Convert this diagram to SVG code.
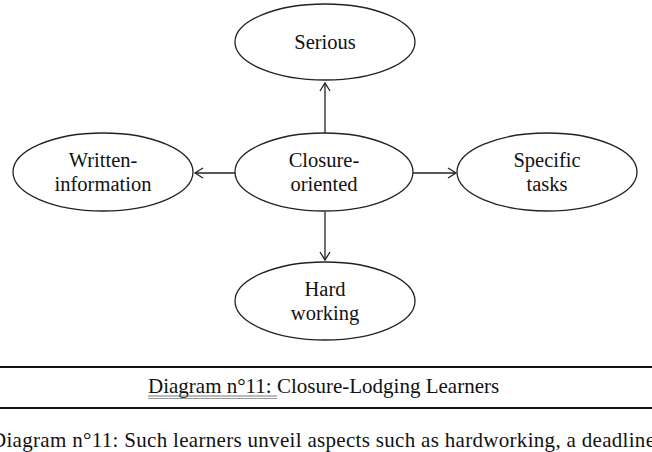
<svg xmlns="http://www.w3.org/2000/svg" width="652" height="452" viewBox="0 0 652 452">
<style>
.node ellipse{fill:#fff;stroke:#222;stroke-width:1.3}
text{font-family:"Liberation Serif","Times New Roman",serif;fill:#111}
.lbl{font-size:20.5px;text-anchor:middle}
.conn line{stroke:#222;stroke-width:1.3;marker-end:url(#ah)}
.rule{stroke:#111;stroke-width:2}
</style>
<defs>
<marker id="ah" markerWidth="12" markerHeight="12" refX="9" refY="6" orient="auto" markerUnits="userSpaceOnUse">
<path d="M1,1 L9,6 L1,11" fill="none" stroke="#222" stroke-width="1.3"/>
</marker>
</defs>
<rect width="652" height="452" fill="#fff"/>
<g id="connectors" class="conn">
<line x1="325" y1="133" x2="325" y2="83"/>
<line x1="235" y1="173" x2="195" y2="173"/>
<line x1="413" y1="173" x2="456" y2="173"/>
<line x1="325" y1="212" x2="325" y2="260"/>
</g>
<g id="serious" class="node"><ellipse cx="325" cy="42" rx="90" ry="38"/><text class="lbl" x="325" y="49">Serious</text></g>
<g id="written" class="node"><ellipse cx="103" cy="172" rx="90" ry="39"/><text class="lbl" x="103" y="167">Written-</text><text class="lbl" x="103" y="191">information</text></g>
<g id="closure" class="node"><ellipse cx="324" cy="172" rx="89" ry="39"/><text class="lbl" x="324" y="167">Closure-</text><text class="lbl" x="324" y="191">oriented</text></g>
<g id="specific" class="node"><ellipse cx="547" cy="172" rx="90" ry="39"/><text class="lbl" x="547" y="167">Specific</text><text class="lbl" x="547" y="191">tasks</text></g>
<g id="hard" class="node"><ellipse cx="325" cy="301" rx="90" ry="39"/><text class="lbl" x="325" y="296">Hard</text><text class="lbl" x="325" y="320">working</text></g>
<g id="caption">
<line class="rule" x1="0" y1="367" x2="652" y2="367"/>
<line class="rule" x1="0" y1="408" x2="652" y2="408"/>
<text x="148" y="393" font-size="21"><tspan>Diagram n°11:</tspan> Closure-Lodging Learners</text>
<line x1="148" y1="396" x2="277" y2="396" stroke="#777" stroke-width="1"/>
<line x1="148" y1="398.5" x2="277" y2="398.5" stroke="#999" stroke-width="1"/>
<text x="-9" y="447" font-size="21" textLength="664" lengthAdjust="spacing">Diagram n°11: Such learners unveil aspects such as hardworking, a deadline</text>
</g>
</svg>
